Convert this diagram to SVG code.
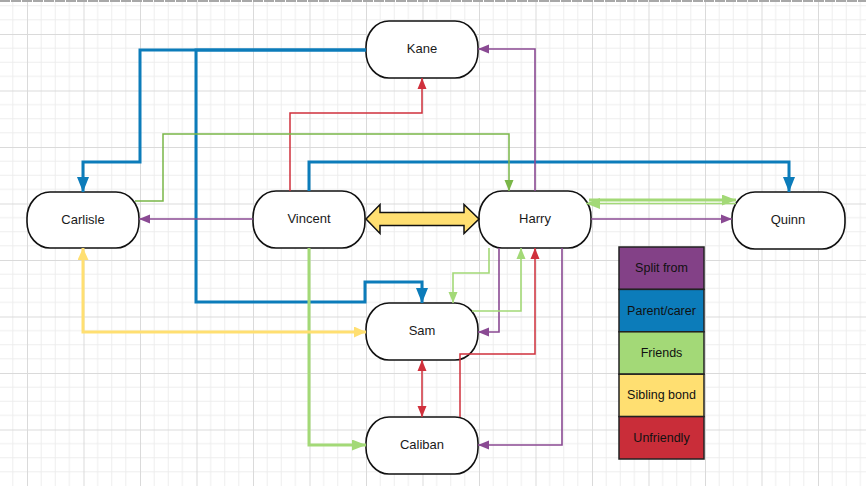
<svg xmlns="http://www.w3.org/2000/svg" width="866" height="486" viewBox="0 0 866 486">
<defs>
<style>
.node rect{fill:#fff;stroke:#111;stroke-width:1.6}
.lbl{font-family:"Liberation Sans",Arial,sans-serif;font-size:13px;fill:#1a1a1a;text-anchor:middle;dominant-baseline:central}
.leg{font-family:"Liberation Sans",Arial,sans-serif;font-size:12.5px;fill:#111;text-anchor:middle;dominant-baseline:central}
.c{fill:none;stroke-linejoin:miter}
.blue{stroke:#0c7cba;stroke-width:3}
.red{stroke:#d0303c;stroke-width:1.5}
.purple{stroke:#8a4a93;stroke-width:1.6}
.green{stroke:#a3d977;stroke-width:1.6}
.greenT{stroke:#a3d977;stroke-width:3}
.dgreen{stroke:#7ab648;stroke-width:1.5}
.yellow{stroke:#ffdf71;stroke-width:3}
.legbox{stroke:#222;stroke-width:1.5}
</style>
<pattern id="grid" x="27" y="34" width="56.5" height="56.5" patternUnits="userSpaceOnUse">
<path d="M14.125,0V56.5M28.25,0V56.5M42.375,0V56.5M0,14.125H56.5M0,28.25H56.5M0,42.375H56.5" stroke="#ededed" stroke-width="1" fill="none"/>
<path d="M0.5,0V56.5M0,0.5H56.5" stroke="#dadada" stroke-width="1" fill="none"/>
</pattern>
<marker id="aBlue" markerUnits="userSpaceOnUse" markerWidth="16" markerHeight="12" refX="15" refY="6" orient="auto"><path d="M0,0L15,6L0,12z" fill="#0c7cba"/></marker>
<marker id="aRed" markerUnits="userSpaceOnUse" markerWidth="12" markerHeight="10" refX="11" refY="5" orient="auto-start-reverse"><path d="M0,0.5L11,5L0,9.5z" fill="#d0303c"/></marker>
<marker id="aPurple" markerUnits="userSpaceOnUse" markerWidth="12" markerHeight="10" refX="11" refY="5" orient="auto"><path d="M0,0.5L11,5L0,9.5z" fill="#8a4a93"/></marker>
<marker id="aGreen" markerUnits="userSpaceOnUse" markerWidth="12" markerHeight="10" refX="11" refY="5" orient="auto"><path d="M0,0.5L11,5L0,9.5z" fill="#a3d977"/></marker>
<marker id="aGreenT" markerUnits="userSpaceOnUse" markerWidth="15" markerHeight="11" refX="14" refY="5.5" orient="auto"><path d="M0,0L14,5.5L0,11z" fill="#a3d977"/></marker>
<marker id="aDGreen" markerUnits="userSpaceOnUse" markerWidth="12" markerHeight="10" refX="11" refY="5" orient="auto"><path d="M0,0.5L11,5L0,9.5z" fill="#7ab648"/></marker>
<marker id="aYellow" markerUnits="userSpaceOnUse" markerWidth="13" markerHeight="11" refX="12" refY="5.5" orient="auto-start-reverse"><path d="M0,0L12,5.5L0,11z" fill="#ffdf71"/></marker>
</defs>
<rect width="866" height="486" fill="#fff"/>
<rect width="866" height="486" fill="url(#grid)"/>
<line x1="0" y1="1" x2="866" y2="1" stroke="#a8a8a8" stroke-width="2" stroke-dasharray="10,1"/>
<g id="kane" class="node"><rect x="366" y="21" width="112" height="57" rx="23" ry="26"/><text class="lbl" x="422" y="48.5">Kane</text></g>
<g id="carlisle" class="node"><rect x="27" y="192" width="112" height="56" rx="23" ry="26"/><text class="lbl" x="83" y="219">Carlisle</text></g>
<g id="vincent" class="node"><rect x="253" y="191" width="112" height="57" rx="23" ry="26"/><text class="lbl" x="309" y="218">Vincent</text></g>
<g id="harry" class="node"><rect x="479" y="191" width="112" height="57" rx="23" ry="26"/><text class="lbl" x="535" y="218">Harry</text></g>
<g id="quinn" class="node"><rect x="732" y="192" width="113" height="57" rx="23" ry="26"/><text class="lbl" x="788" y="219">Quinn</text></g>
<g id="sam" class="node"><rect x="366" y="303" width="112" height="57" rx="23" ry="26"/><text class="lbl" x="422" y="330">Sam</text></g>
<g id="caliban" class="node"><rect x="366" y="417" width="112" height="57" rx="23" ry="26"/><text class="lbl" x="422" y="444">Caliban</text></g>
<g id="connectors">
<path class="c blue" d="M366,50H140V162H83V192" marker-end="url(#aBlue)"/>
<path class="c blue" d="M366,50H196V302H365V282H422V303" marker-end="url(#aBlue)"/>
<path class="c blue" d="M309,191V162H789V192" marker-end="url(#aBlue)"/>
<path class="c red" d="M290,191V113H422V78" marker-end="url(#aRed)"/>
<path class="c red" d="M422,360V417" marker-start="url(#aRed)" marker-end="url(#aRed)"/>
<path class="c red" d="M460,417V354H535V248" marker-end="url(#aRed)"/>
<path class="c purple" d="M253,219H139" marker-end="url(#aPurple)"/>
<path class="c purple" d="M535,191V49H478" marker-end="url(#aPurple)"/>
<path class="c purple" d="M591,219H732" marker-end="url(#aPurple)"/>
<path class="c purple" d="M499,248V332H478" marker-end="url(#aPurple)"/>
<path class="c purple" d="M562,248V445H478" marker-end="url(#aPurple)"/>
<path class="c dgreen" d="M135,201H163V134H509V191" marker-end="url(#aDGreen)"/>
<path class="c greenT" d="M309,248V445H366" marker-end="url(#aGreenT)"/>
<path class="c green" d="M489,248V273H453V303" marker-end="url(#aGreen)"/>
<path class="c green" d="M472,311H521V248" marker-end="url(#aGreen)"/>
<path class="c greenT" d="M589,200H736" marker-end="url(#aGreenT)"/>
<path class="c green" d="M736,203.5H586" marker-end="url(#aGreenT)"/>
<path class="c yellow" d="M83,248V332H366" marker-start="url(#aYellow)" marker-end="url(#aYellow)"/>
<polygon points="366,219 380,204.5 380,212.5 464,212.5 464,204.5 479,219 464,233.5 464,225.5 380,225.5 380,233.5" fill="#ffdf71" stroke="#111" stroke-width="1.5" stroke-linejoin="miter"/>
</g>
<g id="legend">
<rect class="legbox" x="619" y="247" width="85" height="42.4" fill="#834187"/>
<text class="leg" x="661.5" y="268">Split from</text>
<rect class="legbox" x="619" y="289.4" width="85" height="42.4" fill="#0c7cba"/>
<text class="leg" x="661.5" y="310.6">Parent/carer</text>
<rect class="legbox" x="619" y="331.8" width="85" height="42.4" fill="#a3d977"/>
<text class="leg" x="661.5" y="353">Friends</text>
<rect class="legbox" x="619" y="374.2" width="85" height="42.4" fill="#ffdf71"/>
<text class="leg" x="661.5" y="395.4">Sibling bond</text>
<rect class="legbox" x="619" y="416.6" width="85" height="42.4" fill="#c92d39"/>
<text class="leg" x="661.5" y="437.8">Unfriendly</text>
</g>
</svg>
